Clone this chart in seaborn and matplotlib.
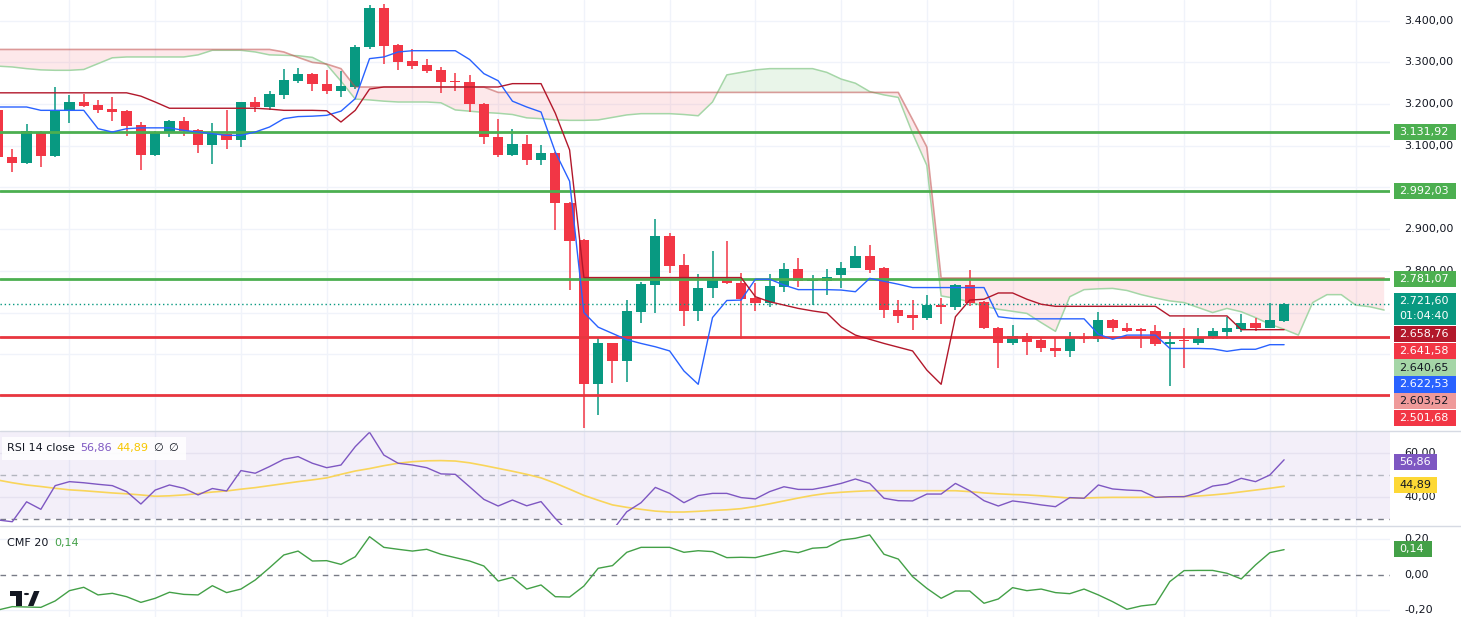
import numpy as np
import pandas as pd
import matplotlib
matplotlib.use("Agg")
import matplotlib.pyplot as plt
import matplotlib.transforms as mtransforms
from matplotlib.patches import Rectangle, Circle, Polygon
from matplotlib.lines import Line2D
import seaborn as sns

# ---------------- data ----------------
first_bar = -1
opens = [3185, 3073, 3059, 3133, 3076, 3184, 3204, 3197, 3189, 3183,
         3149, 3077, 3131, 3159, 3137, 3101, 3129, 3113, 3204, 3192,
         3222, 3256, 3273, 3249, 3232, 3240, 3337, 3431, 3341, 3303,
         3293, 3281, 3254, 3253, 3200, 3121, 3077, 3104, 3065, 3082,
         2962, 2874, 2528, 2626, 2584, 2702, 2767, 2883, 2814, 2704,
         2759, 2779, 2772, 2734, 2722, 2762, 2804, 2776, 2776, 2790,
         2808, 2835, 2806, 2707, 2694, 2687, 2718, 2713, 2766, 2726,
         2662, 2626, 2644, 2634, 2616, 2608, 2642, 2636, 2682, 2664,
         2659, 2655, 2624, 2633, 2627, 2639, 2654, 2660, 2674, 2664,
         2680]
highs = [3190, 3092, 3153, 3135, 3240, 3221, 3224, 3209, 3217, 3187,
         3157, 3135, 3163, 3168, 3141, 3155, 3185, 3206, 3216, 3232,
         3283, 3286, 3275, 3281, 3279, 3341, 3438, 3440, 3343, 3333,
         3307, 3289, 3275, 3269, 3202, 3165, 3141, 3125, 3103, 3085,
         2965, 2876, 2638, 2628, 2731, 2774, 2924, 2890, 2840, 2792,
         2848, 2871, 2796, 2770, 2792, 2820, 2830, 2790, 2805, 2822,
         2859, 2862, 2810, 2729, 2729, 2742, 2734, 2768, 2802, 2728,
         2665, 2670, 2651, 2638, 2642, 2654, 2650, 2702, 2684, 2676,
         2664, 2670, 2654, 2662, 2662, 2664, 2690, 2696, 2688, 2724,
         2724]
lows = [3068, 3037, 3056, 3049, 3074, 3155, 3192, 3179, 3160, 3123,
        3041, 3075, 3120, 3124, 3083, 3056, 3093, 3096, 3181, 3185,
        3212, 3251, 3232, 3224, 3217, 3235, 3333, 3297, 3281, 3284,
        3275, 3227, 3232, 3181, 3105, 3073, 3075, 3053, 3053, 2899,
        2755, 2422, 2454, 2531, 2534, 2674, 2700, 2795, 2668, 2680,
        2736, 2769, 2636, 2704, 2714, 2750, 2762, 2718, 2742, 2758,
        2806, 2796, 2688, 2675, 2659, 2683, 2672, 2707, 2715, 2660,
        2568, 2622, 2599, 2606, 2594, 2594, 2627, 2630, 2654, 2654,
        2616, 2619, 2524, 2566, 2622, 2636, 2636, 2654, 2656, 2662,
        2678]
closes = [3073, 3059, 3135, 3076, 3185, 3204, 3195, 3185, 3181, 3147,
          3077, 3133, 3160, 3135, 3101, 3129, 3113, 3204, 3192, 3224,
          3257, 3273, 3248, 3232, 3243, 3337, 3431, 3339, 3301, 3292,
          3280, 3253, 3252, 3199, 3120, 3077, 3104, 3065, 3082, 2962,
          2872, 2528, 2626, 2584, 2703, 2768, 2883, 2812, 2704, 2760,
          2779, 2771, 2732, 2722, 2764, 2804, 2776, 2779, 2786, 2808,
          2835, 2802, 2707, 2692, 2688, 2718, 2713, 2766, 2723, 2662,
          2626, 2644, 2630, 2615, 2608, 2642, 2636, 2682, 2664, 2656,
          2657, 2624, 2630, 2631, 2640, 2655, 2662, 2674, 2664, 2682,
          2721.6]
tenkan = [3193, 3193, 3193, 3185, 3185, 3185, 3185, 3141, 3133, 3141,
          3143, 3143, 3143, 3137, 3133, 3129, 3125, 3125, 3133, 3145,
          3165, 3170, 3171, 3173, 3183, 3213, 3309, 3313, 3325, 3328,
          3328, 3328, 3328, 3307, 3273, 3256, 3207, 3193, 3181, 3085,
          3015, 2700, 2665, 2650, 2635, 2626, 2618, 2608, 2560, 2528,
          2688, 2729, 2730, 2780, 2780, 2766, 2755, 2755, 2755, 2754,
          2750, 2782, 2775, 2768, 2760, 2760, 2760, 2760, 2760, 2760,
          2690, 2686, 2685, 2685, 2685, 2685, 2685, 2648, 2636, 2646,
          2646, 2646, 2614, 2614, 2614, 2613, 2607, 2612, 2612, 2623,
          2623]
kijun = [3227, 3227, 3227, 3227, 3227, 3227, 3227, 3227, 3227, 3227,
         3219, 3205, 3190, 3190, 3190, 3190, 3190, 3190, 3190, 3188,
         3185, 3185, 3185, 3184, 3157, 3185, 3236, 3241, 3241, 3241,
         3241, 3241, 3241, 3241, 3241, 3241, 3249, 3249, 3249, 3178,
         3090, 2784, 2784, 2784, 2784, 2784, 2784, 2784, 2784, 2784,
         2784, 2784, 2784, 2738, 2726, 2718, 2710, 2704, 2699, 2666,
         2646, 2636, 2626, 2617, 2608, 2562, 2528, 2690, 2730, 2732,
         2747, 2747, 2732, 2720, 2715, 2715, 2715, 2715, 2715, 2715,
         2715, 2715, 2692, 2692, 2692, 2692, 2692, 2659, 2659, 2659,
         2659]
span_a = [3291, 3289, 3285, 3282, 3281, 3281, 3283, 3297, 3311, 3313,
          3313, 3313, 3313, 3313, 3318, 3329, 3329, 3329, 3325, 3318,
          3317, 3316, 3312, 3295, 3255, 3212, 3210, 3207, 3205, 3205,
          3205, 3203, 3186, 3183, 3180, 3178, 3175, 3167, 3165, 3162,
          3161, 3161, 3162, 3168, 3174, 3177, 3177, 3177, 3175, 3172,
          3205, 3270, 3276, 3282, 3285, 3285, 3285, 3285, 3276, 3260,
          3250, 3230, 3222, 3216, 3130, 3053, 2740, 2734, 2726, 2715,
          2708, 2703, 2698, 2676, 2655, 2738, 2755, 2757, 2758, 2753,
          2743, 2735, 2728, 2724, 2712, 2700, 2710, 2702, 2688, 2672,
          2660, 2646, 2724, 2743, 2743, 2718, 2714, 2706]
span_b = ([3331] * 20 + [3325, 3312, 3300, 3296, 3285] + [3241] * 10
          + [3228] * 29 + [3163, 3097] + [2783] * 32)
rsi = [29.7, 28.9, 37.9, 34.5, 45.2, 47.0, 46.5, 45.8, 45.2, 42.5,
       36.9, 43.2, 45.5, 44.0, 41.0, 43.9, 42.8, 52.0, 50.8, 53.8,
       57.1, 58.3, 55.3, 53.3, 54.5, 62.8, 69.3, 59.0, 55.3, 54.5,
       53.3, 50.5, 50.3, 44.7, 39.0, 36.0, 38.7, 36.1, 38.0, 30.4,
       24.0, 18.0, 21.0, 25.0, 33.4, 37.5, 44.4, 41.7, 37.5, 40.7,
       41.7, 41.7, 39.8, 39.2, 42.5, 44.7, 43.5, 43.5, 44.7, 46.2,
       48.2, 46.2, 39.5, 38.4, 38.3, 41.4, 41.4, 46.2, 42.9, 38.4,
       36.0, 38.3, 37.5, 36.5, 35.7, 39.8, 39.5, 45.5, 43.7, 43.2,
       42.9, 39.9, 40.2, 40.2, 42.0, 45.0, 45.9, 48.5, 47.0, 50.0,
       56.86]
rsi_ma = [47.7, 46.5, 45.5, 44.8, 44.0, 43.3, 42.9, 42.4, 41.9, 41.5,
          41.0, 40.4, 40.6, 41.0, 41.6, 42.3, 42.8, 43.6, 44.3, 45.2,
          46.1, 47.0, 47.8, 48.7, 50.3, 51.8, 52.9, 54.2, 55.3, 56.0,
          56.4, 56.5, 56.3, 55.5, 54.3, 53.0, 51.7, 50.3, 48.7, 46.3,
          43.6, 40.8, 38.6, 36.5, 35.4, 34.5, 33.7, 33.3, 33.3, 33.6,
          34.0, 34.3, 34.8, 35.8, 37.0, 38.3, 39.6, 40.8, 41.7, 42.2,
          42.6, 42.9, 42.9, 42.9, 42.9, 42.9, 42.9, 42.9, 42.5, 41.9,
          41.5, 41.2, 41.0, 40.6, 40.1, 39.6, 39.6, 39.8, 39.9, 39.9,
          39.9, 40.0, 40.1, 40.3, 40.5, 41.0, 41.6, 42.4, 43.2, 44.0,
          44.89]
cmf = [-0.200, -0.181, -0.183, -0.185, -0.149, -0.091, -0.072, -0.115, -0.106, -0.125,
       -0.157, -0.134, -0.100, -0.112, -0.115, -0.063, -0.102, -0.082, -0.031, 0.038,
       0.110, 0.132, 0.076, 0.078, 0.057, 0.100, 0.213, 0.153, 0.142, 0.132,
       0.142, 0.114, 0.095, 0.076, 0.048, -0.037, -0.016, -0.082, -0.059, -0.125,
       -0.127, -0.065, 0.035, 0.050, 0.125, 0.153, 0.153, 0.153, 0.125, 0.134,
       0.129, 0.095, 0.097, 0.095, 0.114, 0.134, 0.123, 0.148, 0.153, 0.194,
       0.204, 0.223, 0.114, 0.087, -0.012, -0.078, -0.134, -0.093, -0.093, -0.162,
       -0.138, -0.074, -0.091, -0.082, -0.102, -0.108, -0.082, -0.115, -0.153, -0.196,
       -0.177, -0.168, -0.040, 0.022, 0.023, 0.023, 0.007, -0.025, 0.054, 0.123,
       0.140]

green_levels = [3131.92, 2992.03, 2781.07]
red_levels = [2641.58, 2501.68]
last_price = 2721.60
countdown = "01:04:40"
price_ticks = [3400, 3300, 3200, 3100, 2900, 2800]
rsi_ticks = [60, 40]
cmf_ticks = [0.2, 0.0, -0.2]
# stacked price-scale labels: (value text, fill, text colour)
stack_labels = [("2.658,76", "#b2182b", "white"),
                ("2.641,58", "#f23645", "white"),
                ("2.640,65", "#a5d6a7", "#131722"),
                ("2.622,53", "#2962ff", "white"),
                ("2.603,52", "#ef9a9a", "#131722"),
                ("2.501,68", "#f23645", "white")]

# ---------------- helpers ----------------
def fmt(v, d=2):
    s = f"{v:,.{d}f}"
    return s.replace(",", "X").replace(".", ",").replace("X", ".")

sns.set_theme(style="white")
plt.rcParams["font.family"] = ["DejaVu Sans"]

W, H = 1461, 617
AXR = 1390
fig = plt.figure(figsize=(W / 100, H / 100), dpi=100)
fig.patch.set_facecolor("white")

def fy(py):
    return 1 - py / H

ax_p = fig.add_axes([0, fy(431), AXR / W, 431 / H])
ax_r = fig.add_axes([0, fy(525), AXR / W, 94 / H])
ax_c = fig.add_axes([0, 0, AXR / W, 90 / H])

GRID = "#f0f3fa"
XL = (-0.86, 96.41)

x = np.arange(first_bar, first_bar + len(closes))
xc = np.arange(first_bar, first_bar + len(span_a))
o = np.array(opens, float); c = np.array(closes, float)
h = np.array(highs, float); l = np.array(lows, float)
A = np.array(span_a, float); B = np.array(span_b, float)

for ax in (ax_p, ax_r, ax_c):
    for s in ax.spines.values():
        s.set_visible(False)
    for v in range(4, 97, 6):
        ax.axvline(v, color=GRID, lw=1, zorder=0)

for p in range(2500, 3500, 100):
    ax_p.axhline(p, color=GRID, lw=1, zorder=0)

# Ichimoku cloud
ax_p.fill_between(xc, A, B, where=A >= B, interpolate=True, color="#4caf50",
                  alpha=0.12, lw=0, zorder=1)
ax_p.fill_between(xc, A, B, where=B > A, interpolate=True, color="#f23645",
                  alpha=0.11, lw=0, zorder=1)
sns.lineplot(x=xc, y=A, ax=ax_p, color="#a5d6a7", lw=1.1, zorder=2)

# candles
cols = np.where(c >= o, "#089981", "#f23645")
ax_p.vlines(x, l, h, colors=cols, lw=1.1, zorder=4)
ax_p.bar(x, np.maximum(np.abs(c - o), 2.5), bottom=np.minimum(o, c), width=0.72,
         color=cols, lw=0, zorder=4)

# horizontal levels
for v in green_levels:
    ax_p.axhline(v, color="#4caf50", lw=2, zorder=5)
for v in red_levels:
    ax_p.axhline(v, color="#e8363f", lw=2, zorder=5)
ax_p.axhline(last_price, color="#089981", lw=1, ls=(0, (1, 2)), zorder=5)

sns.lineplot(x=xc, y=B, ax=ax_p, color="#c0504d", lw=1.2, alpha=0.55, zorder=6)
sns.lineplot(x=x, y=np.array(tenkan, float), ax=ax_p, color="#2962ff", lw=1, zorder=6)
sns.lineplot(x=x, y=np.array(kijun, float), ax=ax_p, color="#b2182b", lw=1, zorder=6)

ax_p.set_xlim(*XL)
ax_p.set_ylim(2416, 3449.6)

# RSI panel
ax_r.axhspan(30, 70, color="#7e57c2", alpha=0.09, lw=0, zorder=0)
for v in rsi_ticks:
    ax_r.axhline(v, color="#e6e2f0", lw=1, zorder=0.5)
ax_r.axhline(50, color="#b2b5be", lw=1, ls=(0, (4, 4)), zorder=1)
ax_r.axhline(30, color="#787b86", lw=1, ls=(0, (4, 4)), zorder=1)
sns.lineplot(x=x, y=np.array(rsi_ma, float), ax=ax_r, color="#f9d55a", lw=1.2, zorder=3)
sns.lineplot(x=x, y=np.array(rsi, float), ax=ax_r, color="#7e57c2", lw=1, zorder=4)
ax_r.set_xlim(*XL)
ax_r.set_ylim(27.43, 69.86)

# CMF panel
for v in (0.2, -0.2):
    ax_c.axhline(v, color=GRID, lw=1, zorder=0)
ax_c.axhline(0, color="#787b86", lw=1, ls=(0, (4, 4)), zorder=1)
sns.lineplot(x=x, y=np.array(cmf, float), ax=ax_c, color="#43a047", lw=1, zorder=3)
ax_c.set_xlim(*XL)
ax_c.set_ylim(-0.2394, 0.2676)

for ax in (ax_p, ax_r, ax_c):
    ax.set_xticks([]); ax.set_yticks([])
    ax.set_xlabel(""); ax.set_ylabel("")
    if ax.get_legend():
        ax.get_legend().remove()

# scale tick labels
TXT = "#131722"
FS = 8
def scale_ticks(ax, vals, d):
    tr = mtransforms.blended_transform_factory(ax.transAxes, ax.transData)
    for v in vals:
        ax.text(1404 / AXR, v, fmt(v, d), transform=tr, ha="left", va="center",
                fontsize=FS, color=TXT, clip_on=False)
scale_ticks(ax_p, price_ticks, 2)
scale_ticks(ax_r, rsi_ticks, 2)
scale_ticks(ax_c, cmf_ticks, 2)

# separators
for py in (431, 526):
    fig.add_artist(Line2D([0, 1], [fy(py), fy(py)], color="#d6dae3", lw=1,
                          transform=fig.transFigure, zorder=5))

def box(cy, text, fc, tc, hgt=16, x0=1394, x1=1456):
    fig.patches.append(Rectangle((x0 / W, fy(cy + hgt / 2)), (x1 - x0) / W, hgt / H,
                                 transform=fig.transFigure, fc=fc, ec="none", zorder=6))
    fig.text((x0 + 5) / W, fy(cy), text, color=tc, fontsize=FS, ha="left",
             va="center", zorder=7)

for v in green_levels:
    py = 20.7 + (3400 - v) * 0.417
    box(py, fmt(v), "#4caf50", "white")

# last price (two lines)
fig.patches.append(Rectangle((1394 / W, fy(325)), 62 / W, 32 / H,
                             transform=fig.transFigure, fc="#089981", ec="none", zorder=6))
fig.text(1399 / W, fy(301), fmt(last_price), color="white", fontsize=FS,
         va="center", zorder=7)
fig.text(1399 / W, fy(316), countdown, color="white", fontsize=FS,
         va="center", zorder=7)

for i, (t, fc, tc) in enumerate(stack_labels):
    box(334 + i * 16.8, t, fc, tc, hgt=16.5)

box(462, fmt(rsi[-1]), "#7e57c2", "white", x1=1437)
box(485, fmt(rsi_ma[-1]), "#fdd835", TXT, x1=1437)
box(549, fmt(cmf[-1]), "#43a047", "white", x1=1432)

# legends (top-left of indicator panes) -- all inside ax_r / ax_c for layering
ax_r.add_patch(Rectangle((2 / W, fy(460)), 184 / W, 23 / H, transform=fig.transFigure,
                         fc="white", ec="none", alpha=0.85, zorder=6, clip_on=False))
prev = ax_r.text(7 / W, fy(448), "RSI 14 close", color=TXT, fontsize=8, va="center",
                 transform=fig.transFigure, zorder=7, clip_on=False)
for txt, col in [(fmt(rsi[-1]), "#7e57c2"), (fmt(rsi_ma[-1]), "#f7c600"),
                 ("\u2205", TXT), ("\u2205", TXT)]:
    prev = ax_r.annotate(txt, xy=(1, 0.5), xycoords=prev, xytext=(3.5, 0),
                         textcoords="offset points", va="center", ha="left",
                         fontsize=8, color=col, annotation_clip=False, zorder=7)

t1 = ax_c.text(7 / W, fy(543), "CMF 20", color=TXT, fontsize=8, va="center",
               transform=fig.transFigure, zorder=7, clip_on=False)
ax_c.annotate(fmt(cmf[-1]), xy=(1, 0.5), xycoords=t1, xytext=(4, 0),
              textcoords="offset points", va="center", ha="left", fontsize=8,
              color="#43a047", annotation_clip=False, zorder=7)

# TradingView logo (approximate)
def fxy(px, py):
    return (px / W, fy(py))
logo = [Rectangle(fxy(10, 596), 12 / W, 5 / H),
        Rectangle(fxy(16, 606), 6 / W, 15 / H),
        Polygon([fxy(28, 606), fxy(33.5, 606), fxy(39.5, 591), fxy(34, 591)])]
for pch in logo:
    pch.set_transform(fig.transFigure)
    pch.set_facecolor("#131722"); pch.set_edgecolor("none"); pch.set_zorder(7)
    fig.patches.append(pch)
circ = Circle(fxy(26.5, 594), 2.6 / W, transform=fig.transFigure, fc="#131722",
              ec="none", zorder=7)
fig.patches.append(circ)

fig.savefig("out.png", dpi=100)
